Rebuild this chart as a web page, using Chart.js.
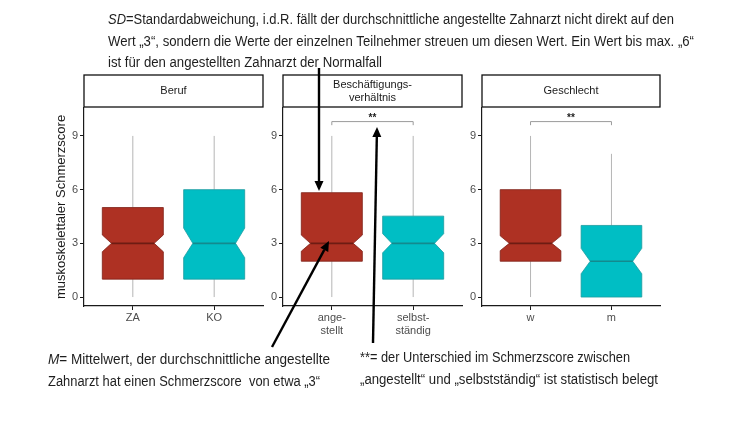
<!DOCTYPE html>
<html>
<head>
<meta charset="utf-8">
<script src="https://cdn.jsdelivr.net/npm/chart.js@4.4.1/dist/chart.umd.min.js"></script>
<style>
    body { margin: 0; background: #fff; width: 750px; height: 422px; position: relative; overflow: hidden; }
    canvas { position: absolute; }
    #p1 { left: 46px; top: 74px; }
    #p2 { left: 260px; top: 74px; }
    #p3 { left: 459px; top: 74px; }
    #notas { left: 0; top: 0; z-index: 5; pointer-events: none; }
</style>
</head>
<body>
<canvas id="p1" width="219" height="270"></canvas>
<canvas id="p2" width="204" height="270"></canvas>
<canvas id="p3" width="203" height="270"></canvas>
<canvas id="notas" width="750" height="422"></canvas>
<script>
const Y_TICKS = [0, 3, 6, 9];

// Beruf
const berufTitel = ['Beruf'];
const berufKat = ['ZA', 'KO'];
const berufMin = [0, 0];
const berufQ1 = [1, 1];
const berufMed = [3, 3];
const berufQ3 = [5, 6];
const berufMax = [9, 9];
const berufKerbeUnten = [2.53, 2.2];
const berufKerbeOben = [3.47, 3.85];

// Beschäftigungsverhältnis
const bvTitel = ['Beschäftigungs-', 'verhältnis'];
const bvKat = [['ange-', 'stellt'], ['selbst-', 'ständig']];
const bvMin = [0, 0];
const bvQ1 = [2, 1];
const bvMed = [3, 3];
const bvQ3 = [5.83, 4.52];
const bvMax = [9, 9];
const bvKerbeUnten = [2.56, 2.47];
const bvKerbeOben = [3.46, 3.54];

// Geschlecht
const gTitel = ['Geschlecht'];
const gKat = ['w', 'm'];
const gMin = [0, 0];
const gQ1 = [2, 0];
const gMed = [3, 2];
const gQ3 = [6, 4];
const gMax = [9, 8];
const gKerbeUnten = [2.59, 1.3];
const gKerbeOben = [3.42, 2.72];

const SIGNIFIKANZ_Y = 9.8;

const FARBEN = ['#AE3123', '#00BEC4'];
const RAHMEN = ['#7E2016', '#1A9CA0'];
const MEDIAN_FARBE = ['#6E1C13', '#138A8E'];

function boxPlugin(werte) {
    return {
        id: 'kerbBox',
        beforeDatasetsDraw(chart) {
            const { ctx, chartArea, scales: { x, y } } = chart;
            ctx.save();

            // Streifen oben
            const hoehe = 32;
            ctx.fillStyle = '#fff';
            ctx.strokeStyle = '#111';
            ctx.lineWidth = 1.3;
            ctx.fillRect(chartArea.left, chartArea.top - hoehe - 1, chartArea.width, hoehe);
            ctx.strokeRect(chartArea.left, chartArea.top - hoehe - 1, chartArea.width, hoehe);
            ctx.fillStyle = '#1a1a1a';
            ctx.font = '11px "Liberation Sans", Arial, sans-serif';
            ctx.textAlign = 'center';
            ctx.textBaseline = 'middle';
            const mitte = chartArea.top - hoehe / 2 - 1;
            const zeilen = werte.titel;
            zeilen.forEach((z, i) => {
                ctx.fillText(z, (chartArea.left + chartArea.right) / 2, mitte + (i - (zeilen.length - 1) / 2) * 13);
            });

            const halb = 0.375;
            werte.med.forEach((_, i) => {
                const cx = x.getPixelForValue(i + 1);
                const l = x.getPixelForValue(i + 1 - halb);
                const r = x.getPixelForValue(i + 1 + halb);
                const einzug = (r - l) * 0.15;
                const yQ1 = y.getPixelForValue(werte.q1[i]);
                const yQ3 = y.getPixelForValue(werte.q3[i]);
                const yMed = y.getPixelForValue(werte.med[i]);
                const yKo = y.getPixelForValue(werte.kerbeOben[i]);
                const yKu = y.getPixelForValue(werte.kerbeUnten[i]);

                // Whisker
                ctx.strokeStyle = '#b5b5b5';
                ctx.lineWidth = 1;
                ctx.beginPath();
                ctx.moveTo(cx, y.getPixelForValue(werte.max[i]));
                ctx.lineTo(cx, yQ3);
                ctx.moveTo(cx, yQ1);
                ctx.lineTo(cx, y.getPixelForValue(werte.min[i]));
                ctx.stroke();

                // Box mit Kerbe
                ctx.beginPath();
                ctx.moveTo(l, yQ3);
                ctx.lineTo(r, yQ3);
                ctx.lineTo(r, yKo);
                ctx.lineTo(r - einzug, yMed);
                ctx.lineTo(r, yKu);
                ctx.lineTo(r, yQ1);
                ctx.lineTo(l, yQ1);
                ctx.lineTo(l, yKu);
                ctx.lineTo(l + einzug, yMed);
                ctx.lineTo(l, yKo);
                ctx.closePath();
                ctx.fillStyle = FARBEN[i];
                ctx.fill();
                ctx.strokeStyle = RAHMEN[i];
                ctx.lineWidth = 0.8;
                ctx.stroke();

                ctx.strokeStyle = MEDIAN_FARBE[i];
                ctx.lineWidth = 1.6;
                ctx.beginPath();
                ctx.moveTo(l + einzug, yMed);
                ctx.lineTo(r - einzug, yMed);
                ctx.stroke();
            });

            if (werte.klammer) {
                const x1 = x.getPixelForValue(1);
                const x2 = x.getPixelForValue(2);
                const yk = y.getPixelForValue(SIGNIFIKANZ_Y);
                const yEnde = y.getPixelForValue(SIGNIFIKANZ_Y - 0.2);
                ctx.strokeStyle = '#9a9a9a';
                ctx.lineWidth = 1;
                ctx.beginPath();
                ctx.moveTo(x1, yEnde);
                ctx.lineTo(x1, yk);
                ctx.lineTo(x2, yk);
                ctx.lineTo(x2, yEnde);
                ctx.stroke();
                ctx.fillStyle = '#222';
                ctx.font = 'bold 10px "Liberation Sans", Arial, sans-serif';
                ctx.textBaseline = 'alphabetic';
                ctx.fillText('**', (x1 + x2) / 2, yk - 1);
            }
            ctx.restore();
        },
    };
}

function erstelleDiagramm(id, kat, werte, yBreite, mitTitel) {
    const achsenFarbe = '#1a1a1a';
    return new Chart(document.getElementById(id), {
        type: 'scatter',
        data: {
            datasets: [{
                data: werte.med.map((m, i) => ({ x: i + 1, y: m })),
                pointRadius: 0,
                showLine: false,
            }],
        },
        options: {
            responsive: false,
            animation: false,
            layout: { padding: { top: 34, right: 2, left: 0, bottom: 0 } },
            plugins: { legend: { display: false }, tooltip: { enabled: false } },
            scales: {
                x: {
                    type: 'linear',
                    min: 0.4,
                    max: 2.6,
                    afterBuildTicks: (s) => { s.ticks = [{ value: 1 }, { value: 2 }]; },
                    afterFit: (s) => { s.height = 38; },
                    ticks: {
                        callback: (v) => kat[v - 1],
                        color: '#4d4d4d',
                        font: { size: 11, family: '"Liberation Sans", Arial, sans-serif', lineHeight: 1.15 },
                        padding: 2,
                        maxRotation: 0,
                    },
                    grid: { drawOnChartArea: false, drawTicks: true, tickLength: 4, color: achsenFarbe },
                    border: { display: true, color: achsenFarbe, width: 1.2 },
                },
                y: {
                    min: -0.5,
                    max: 10.56,
                    afterBuildTicks: (s) => { s.ticks = Y_TICKS.map((v) => ({ value: v })); },
                    afterFit: (s) => { s.width = yBreite; },
                    ticks: {
                        color: '#4d4d4d',
                        font: { size: 11, family: '"Liberation Sans", Arial, sans-serif' },
                        padding: 2,
                    },
                    grid: { drawOnChartArea: false, drawTicks: true, tickLength: 4, color: achsenFarbe },
                    border: { display: true, color: achsenFarbe, width: 1.2 },
                    title: {
                        display: mitTitel,
                        text: 'muskoskelettaler Schmerzscore',
                        color: '#1a1a1a',
                        font: { size: 13, family: '"Liberation Sans", Arial, sans-serif' },
                        padding: { top: 8, bottom: 0 },
                    },
                },
            },
        },
        plugins: [boxPlugin(werte)],
    });
}

erstelleDiagramm('p1', berufKat, {
    titel: berufTitel, min: berufMin, q1: berufQ1, med: berufMed, q3: berufQ3, max: berufMax,
    kerbeUnten: berufKerbeUnten, kerbeOben: berufKerbeOben, klammer: false,
}, 38, true);

erstelleDiagramm('p2', bvKat, {
    titel: bvTitel, min: bvMin, q1: bvQ1, med: bvMed, q3: bvQ3, max: bvMax,
    kerbeUnten: bvKerbeUnten, kerbeOben: bvKerbeOben, klammer: true,
}, 23, false);

erstelleDiagramm('p3', gKat, {
    titel: gTitel, min: gMin, q1: gQ1, med: gMed, q3: gQ3, max: gMax,
    kerbeUnten: gKerbeUnten, kerbeOben: gKerbeOben, klammer: true,
}, 23, false);

// Anmerkungen und Pfeile
const notiz = document.getElementById('notas').getContext('2d');
const SCHRIFT = '"Liberation Sans", Arial, sans-serif';

// Zeile auf eine Zielbreite stauchen (die Vorlage nutzt eine schmale Schrift)
function zeile(teile, x, y, groesse, zielBreite) {
    let gesamt = 0;
    teile.forEach(([text, kursiv]) => {
        notiz.font = (kursiv ? 'italic ' : '') + groesse + 'px ' + SCHRIFT;
        gesamt += notiz.measureText(text).width;
    });
    const faktor = zielBreite / gesamt;
    notiz.save();
    notiz.translate(x, y);
    notiz.scale(faktor, 1);
    let pos = 0;
    teile.forEach(([text, kursiv]) => {
        notiz.font = (kursiv ? 'italic ' : '') + groesse + 'px ' + SCHRIFT;
        notiz.fillText(text, pos, 0);
        pos += notiz.measureText(text).width;
    });
    notiz.restore();
}

function pfeil(x1, y1, x2, y2) {
    const winkel = Math.atan2(y2 - y1, x2 - x1);
    const laenge = 10;
    const bx = x2 - laenge * Math.cos(winkel);
    const by = y2 - laenge * Math.sin(winkel);
    notiz.strokeStyle = '#000';
    notiz.lineWidth = 2.4;
    notiz.beginPath();
    notiz.moveTo(x1, y1);
    notiz.lineTo(bx, by);
    notiz.stroke();
    notiz.fillStyle = '#000';
    notiz.beginPath();
    notiz.moveTo(x2, y2);
    notiz.lineTo(bx + 4.5 * Math.sin(winkel), by - 4.5 * Math.cos(winkel));
    notiz.lineTo(bx - 4.5 * Math.sin(winkel), by + 4.5 * Math.cos(winkel));
    notiz.closePath();
    notiz.fill();
}

notiz.fillStyle = '#1e1e1e';
notiz.textBaseline = 'middle';
zeile([['SD', true], ['=Standardabweichung, i.d.R. fällt der durchschnittliche angestellte Zahnarzt nicht direkt auf den', false]], 108, 20, 14, 566);
zeile([['Wert „3“, sondern die Werte der einzelnen Teilnehmer streuen um diesen Wert. Ein Wert bis max. „6“', false]], 108, 42, 14, 586);
zeile([['ist für den angestellten Zahnarzt der Normalfall', false]], 108, 63, 14, 274);

zeile([['M', true], ['= Mittelwert, der durchschnittliche angestellte', false]], 48, 360, 14, 282);
zeile([['Zahnarzt hat einen Schmerzscore  von etwa „3“', false]], 48, 382, 14, 272);
zeile([['**= der Unterschied im Schmerzscore zwischen', false]], 360, 358, 14, 270);
zeile([['„angestellt“ und „selbstständig“ ist statistisch belegt', false]], 360, 380, 14, 298);

pfeil(319, 68, 319, 191);
pfeil(272, 347, 329, 241);
pfeil(373, 343, 377, 127);
</script>
</body>
</html>
